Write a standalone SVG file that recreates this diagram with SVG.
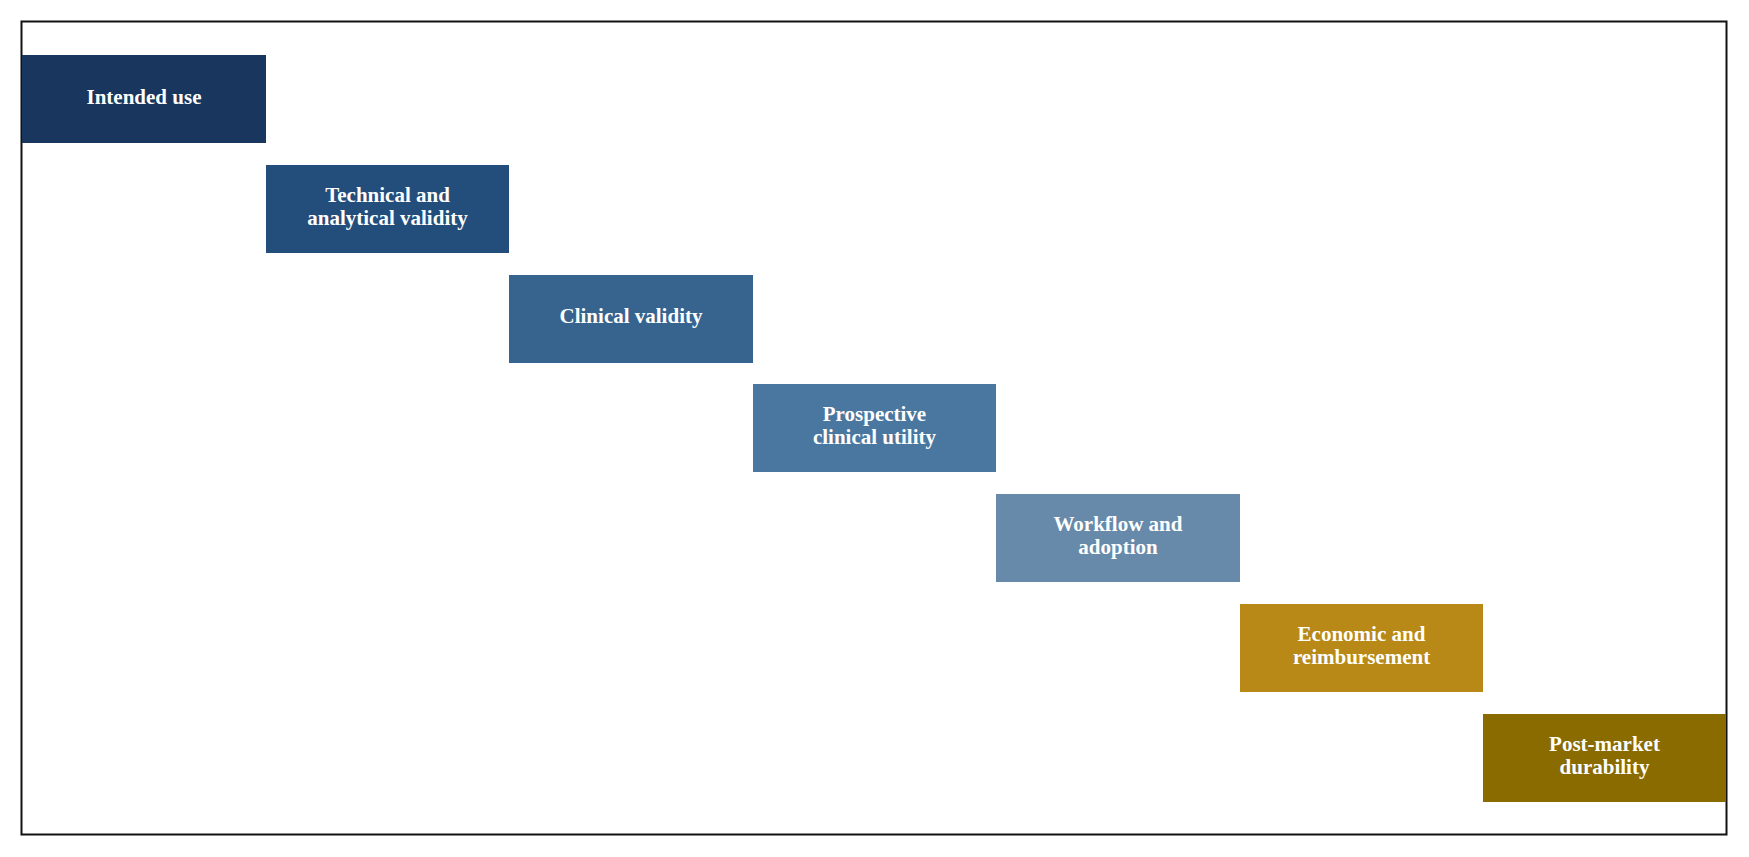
<svg xmlns="http://www.w3.org/2000/svg" width="1749" height="857" viewBox="0 0 1749 857">
<style>
.t{font-family:"Liberation Serif",serif;font-weight:bold;font-size:21px;fill:#fff;text-anchor:middle}
</style>
<rect width="1749" height="857" fill="#fff"/>
<rect x="21.5" y="21.5" width="1705" height="813" fill="none" stroke="#111" stroke-width="2"/>
<g id="n1"><rect x="22" y="55" width="244" height="88" fill="#18365e"/><text class="t" x="144" y="104">Intended use</text></g>
<g id="n2"><rect x="266" y="165" width="243" height="88" fill="#234d7b"/><text class="t" x="387.5" y="202">Technical and</text><text class="t" x="387.5" y="225">analytical validity</text></g>
<g id="n3"><rect x="509" y="275" width="244" height="88" fill="#36648f"/><text class="t" x="631" y="323">Clinical validity</text></g>
<g id="n4"><rect x="753" y="384" width="243" height="88" fill="#4a77a0"/><text class="t" x="874.5" y="421">Prospective</text><text class="t" x="874.5" y="444">clinical utility</text></g>
<g id="n5"><rect x="996" y="494" width="244" height="88" fill="#688aaa"/><text class="t" x="1118" y="531">Workflow and</text><text class="t" x="1118" y="554">adoption</text></g>
<g id="n6"><rect x="1240" y="604" width="243" height="88" fill="#b88916"/><text class="t" x="1361.5" y="641">Economic and</text><text class="t" x="1361.5" y="664">reimbursement</text></g>
<g id="n7"><rect x="1483" y="714" width="243" height="88" fill="#8a6b00"/><text class="t" x="1604.5" y="751">Post-market</text><text class="t" x="1604.5" y="774">durability</text></g>
<g id="connectors"></g>
</svg>
